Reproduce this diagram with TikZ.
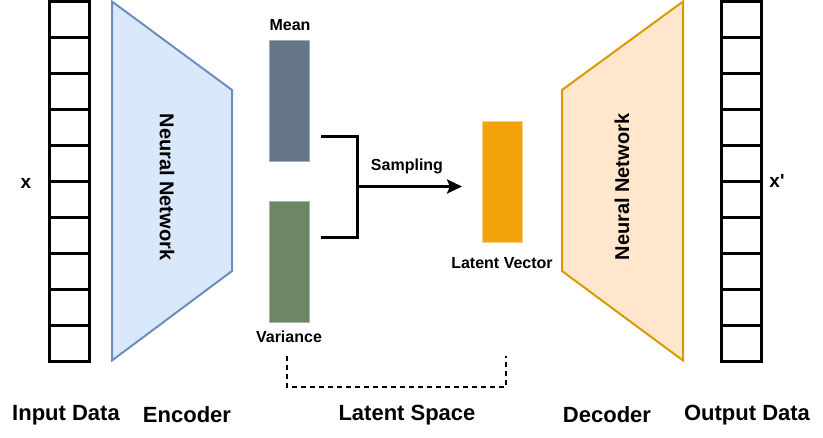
\documentclass[tikz,border=0pt]{standalone}
\usepackage{fontspec}
\setmainfont{Liberation Sans}
\usetikzlibrary{arrows.meta}
\definecolor{encfill}{HTML}{DAE8FC}
\definecolor{encline}{HTML}{6C8EBF}
\definecolor{decfill}{HTML}{FFE6CC}
\definecolor{decline}{HTML}{D79B00}
\definecolor{meanfill}{HTML}{647687}
\definecolor{meanline}{HTML}{A3ABB4}
\definecolor{varfill}{HTML}{6D8764}
\definecolor{varline}{HTML}{A9B8A3}
\definecolor{latfill}{HTML}{F0A30A}
\definecolor{latline}{HTML}{F8CF84}
\tikzset{
  cell/.style={draw=black, line width=3pt, fill=white, minimum width=40pt, minimum height=36pt, inner sep=0pt, outer sep=0pt},
  vecbox/.style={line width=1pt, minimum width=40pt, minimum height=121pt, inner sep=0pt},
  small/.style={font=\fontsize{16}{18}\selectfont\bfseries, inner sep=0pt},
  xl/.style={font=\fontsize{19}{21}\selectfont\bfseries, inner sep=0pt},
  big/.style={font=\fontsize{22}{25}\selectfont\bfseries, inner sep=0pt},
  nn/.style={font=\fontsize{20}{23}\selectfont\bfseries, inner sep=0pt},
}
\begin{document}
\begin{tikzpicture}[x=1pt,y=-1pt]
\useasboundingbox (0,0) rectangle (823,437);
% input column
\foreach \i in {0,...,9} {
  \node[cell] (in\i) at (69,{19+36*\i}) {};
}
\foreach \i in {0,...,9} {
  \node[cell] (out\i) at (741,{19+36*\i}) {};
}
\node[xl] (xlab) at (26,183) {x};
\node[xl] (xplab) at (777,181) {\addfontfeature{Ligatures=TeXOff}x'};
% encoder
\draw[line width=2pt, draw=encline, fill=encfill] (112,1.5) -- (232,90) -- (232,271) -- (112,360.5) -- cycle;
\node[nn, rotate=-90] (enctext) at (167,187) {Neural Network};
% decoder
\draw[line width=2pt, draw=decline, fill=decfill] (683,1.5) -- (562,90) -- (562,271) -- (683,360.5) -- cycle;
\node[nn, rotate=90] (dectext) at (622,187) {Neural Network};
% mean/variance
\node[vecbox, draw=meanline, fill=meanfill] (mean) at (289,100.5) {};
\node[vecbox, draw=varline, fill=varfill] (var) at (289,261.5) {};
\node[small] (meanlab) at (290,25) {Mean};
\node[small] (varlab) at (289,337) {Variance};
% latent vector
\node[vecbox, draw=latline, fill=latfill] (lat) at (502,181.5) {};
\node[small] (latlab) at (502,263) {Latent Vector};
% bracket and arrow
\coordinate (bt) at (322,136);
\coordinate (bb) at (322,237);
\coordinate (bm) at (357,186.5);
\draw[line width=3pt, line cap=rect] (bt) -- (357,136) -- (357,237) -- (bb);
\coordinate (arrowend) at (462,186.5);
\draw[line width=3pt, -{Stealth[length=15pt,width=14pt,inset=3pt]}] (bm) -- (arrowend);
\node[small] (samplab) at (407,166) {Sampling};
% dashed bracket
\coordinate (d1) at (287,356);
\coordinate (d2) at (506,356);
\draw[line width=1.5pt, dash pattern=on 5pt off 4pt] (d1) -- (287,387) -- (506,387) -- (d2);
% bottom labels
\node[big] (l1) at (66,415) {Input Data};
\node[big] (l2) at (187,415) {Encoder};
\node[big] (l3) at (407,415) {Latent Space};
\node[big] (l4) at (607,415) {Decoder};
\node[big] (l5) at (747,415) {Output Data};
\end{tikzpicture}
\end{document}
